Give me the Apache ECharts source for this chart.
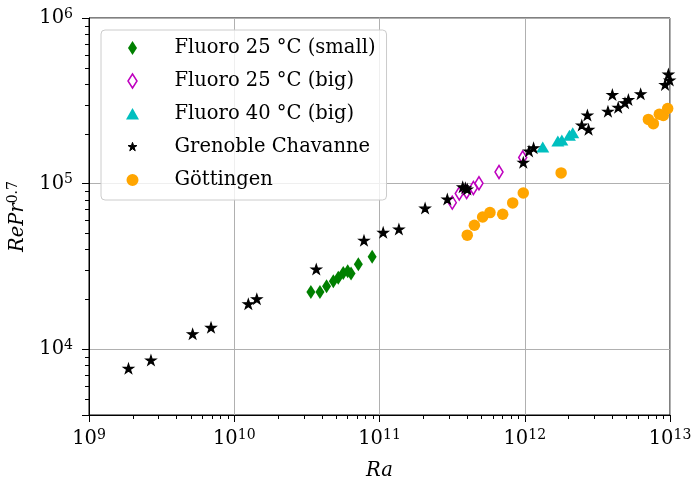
<!DOCTYPE html>
<html><head><meta charset="utf-8">
<script src="https://cdn.jsdelivr.net/npm/echarts@6/dist/echarts.min.js"></script>
<style>html,body{margin:0;padding:0;background:#fff}#c{width:692px;height:478px}</style>
</head><body><div id="c"></div>
<script>
// ---- data ----
const seriesNames = ['Fluoro 25 °C (small)', 'Fluoro 25 °C (big)', 'Fluoro 40 °C (big)', 'Grenoble Chavanne', 'Göttingen'];

const flSmallX = [3.37e10, 3.89e10, 4.32e10, 4.81e10, 5.2e10, 5.63e10, 6.04e10, 6.37e10, 7.15e10, 8.9e10];
const flSmallY = [22150, 22150, 24000, 25700, 27000, 28800, 29500, 28600, 32600, 36100];

const flBigX = [3.17e11, 3.54e11, 3.98e11, 4.43e11, 4.84e11, 6.65e11, 9.68e11];
const flBigY = [76700, 87100, 88900, 94000, 100400, 117500, 143600];

const fl40X = [1.33e12, 1.69e12, 1.80e12, 2.03e12, 2.14e12];
const fl40Y = [166000, 181000, 183000, 196000, 203000];

const grenX = [1.87e9, 2.67e9, 5.17e9, 6.92e9, 1.25e10, 1.43e10, 3.67e10, 7.82e10, 1.06e11, 1.36e11, 2.06e11, 2.93e11, 3.74e11, 3.9e11, 4.02e11, 9.77e11, 1.07e12, 1.15e12, 2.47e12, 2.70e12, 2.75e12, 3.74e12, 4.01e12, 4.40e12, 4.90e12, 5.17e12, 6.28e12, 9.25e12, 9.75e12, 9.95e12];
const grenY = [7640, 8570, 12360, 13500, 18750, 20100, 30400, 45300, 50600, 53000, 70900, 80400, 95300, 94000, 92500, 134000, 157000, 164000, 225000, 259000, 212000, 273000, 344000, 288000, 307000, 321000, 348000, 396000, 457000, 421000];

const gotX = [4.02e11, 4.50e11, 5.13e11, 5.76e11, 7.05e11, 8.26e11, 9.77e11, 1.78e12, 7.10e12, 7.68e12, 8.44e12, 8.99e12, 9.64e12];
const gotY = [48800, 56000, 62800, 66800, 65300, 76400, 87700, 116000, 244000, 230000, 262000, 258000, 284000];

// axis ranges and minor tick positions (log axes: 2..9 x 10^n)
const xRange = [1e9, 1e13];
const yRange = [4000, 1e6];
const xMinor = [];
for (let d = 9; d < 13; d++) for (let k = 2; k <= 9; k++) xMinor.push(k * Math.pow(10, d));
const yMinor = [5000, 6000, 7000, 8000, 9000];
for (let d = 4; d < 6; d++) for (let k = 2; k <= 9; k++) yMinor.push(k * Math.pow(10, d));

// ---- styling ----
const F = 'DejaVu Serif';
const zip = (xs, ys) => xs.map((x, i) => [x, ys[i]]);
const STAR_P = 'M0,-10L2.245,-3.09L9.51,-3.09L3.633,1.18L5.878,8.09L0,3.82L-5.878,8.09L-3.633,1.18L-9.51,-3.09L-2.245,-3.09Z';
const STAR = 'path://' + STAR_P;
const DIAM = 'path://M0,-7L4.5,0L0,7L-4.5,0Z';
// legend icons: tiny corner strokes fix the icon box so sizes match the plot markers
const pad = r => 'M' + (-r) + ',' + (-r) + 'L' + (-r + 0.01) + ',' + (-r) + 'M' + r + ',' + r + 'L' + (r - 0.01) + ',' + r;
const LEG_STAR = 'path://' + pad(15) + STAR_P;
const LEG_TRI = 'path://' + pad(7) + 'M0,-6L6.5,5.5L-6.5,5.5Z';
const LEG_CIRC = 'path://' + pad(7) + 'M6,0A6,6,0,1,1,-6,0A6,6,0,1,1,6,0Z';
const legendIcons = [DIAM, DIAM, LEG_TRI, LEG_STAR, LEG_CIRC];
const legendBorders = [0, 1.5, 0, 1, 0];

function powLabel(v) {
  const l = Math.log10(v), e = Math.round(l);
  if (Math.abs(l - e) > 1e-6) return '';
  return '{b|10}{s|' + e + '}';
}
const richPow = {
  b: {fontFamily: F, fontSize: 19.5, lineHeight: 22, color: '#000'},
  s: {fontFamily: F, fontSize: 14, lineHeight: 13, verticalAlign: 'top', color: '#000'}
};

// minor ticks drawn through the axes' own scales
function minorTickSeries(dim, values, len) {
  return {
    type: 'custom', silent: true, clip: false, z: 5, legendHoverLink: false,
    data: values.map(v => dim === 'x' ? [v, yRange[0]] : [xRange[0], v]),
    renderItem: (params, api) => {
      const p = api.coord([api.value(0), api.value(1)]);
      if (dim === 'x') {
        const x = Math.round(p[0]) + 0.5, y = Math.round(p[1]);
        return {type: 'line', shape: {x1: x, y1: y, x2: x, y2: y + len}, style: {stroke: '#000', lineWidth: 1}};
      }
      const x = Math.round(p[0]), y = Math.round(p[1]) + 0.5;
      return {type: 'line', shape: {x1: x, y1: y, x2: x - len, y2: y}, style: {stroke: '#000', lineWidth: 1}};
    }
  };
}

const chart = echarts.init(document.getElementById('c'), null, {renderer: 'canvas'});
chart.setOption({
  animation: false,
  backgroundColor: '#fff',
  grid: {left: 89, right: 22, top: 18, bottom: 63, show: true, borderColor: '#000', borderWidth: 1,
         containLabel: false, outerBoundsMode: 'none'},
  legend: {
    orient: 'vertical', left: 101, top: 30, padding: [8, 11, 10, 24],
    itemWidth: 14, itemHeight: 14, itemGap: 13,
    backgroundColor: 'rgba(255,255,255,0.8)', borderColor: '#cccccc', borderWidth: 1, borderRadius: 4,
    textStyle: {fontFamily: F, fontSize: 19.5, color: '#000', lineHeight: 20, padding: [0, 0, 0, 30]},
    data: seriesNames.map((n, i) => ({name: n, icon: legendIcons[i], itemStyle: {borderWidth: legendBorders[i]}}))
  },
  xAxis: {
    type: 'log', logBase: 10, min: xRange[0], max: xRange[1], position: 'bottom',
    name: 'Ra', nameLocation: 'middle', nameGap: 46,
    nameTextStyle: {fontFamily: F, fontStyle: 'italic', fontSize: 19.5, color: '#000'},
    axisLine: {show: true, lineStyle: {color: '#000', width: 1}},
    axisTick: {show: true, inside: false, length: 7, lineStyle: {color: '#000', width: 1}},
    axisLabel: {margin: 13, formatter: powLabel, rich: richPow},
    splitLine: {show: true, lineStyle: {color: '#b0b0b0', width: 1}}
  },
  yAxis: {
    type: 'log', logBase: 10, min: yRange[0], max: yRange[1], position: 'left',
    name: '{i|RePr}{s|0.7}', nameLocation: 'middle', nameGap: 55, nameRotate: 90,
    nameTextStyle: {rich: {
      i: {fontFamily: F, fontStyle: 'italic', fontSize: 19.5, lineHeight: 24, color: '#000'},
      s: {fontFamily: F, fontSize: 14, lineHeight: 14, verticalAlign: 'top', color: '#000'}
    }},
    axisLine: {show: true, lineStyle: {color: '#000', width: 1}},
    axisTick: {show: true, inside: false, length: 7, lineStyle: {color: '#000', width: 1}},
    axisLabel: {margin: 16, formatter: powLabel, rich: richPow},
    splitLine: {show: true, lineStyle: {color: '#b0b0b0', width: 1}}
  },
  series: [
    {name: seriesNames[0], type: 'scatter', data: zip(flSmallX, flSmallY), symbol: DIAM, symbolSize: [9, 14],
     itemStyle: {color: '#008000', opacity: 1}},
    {name: seriesNames[1], type: 'scatter', data: zip(flBigX, flBigY), symbol: DIAM, symbolSize: [8, 13],
     itemStyle: {color: '#ffffff', borderColor: '#bf00bf', borderWidth: 1.6, opacity: 1}},
    {name: seriesNames[2], type: 'scatter', data: zip(fl40X, fl40Y), symbol: 'triangle', symbolSize: [13, 11],
     itemStyle: {color: '#00bfbf', opacity: 1}},
    {name: seriesNames[3], type: 'scatter', data: zip(grenX, grenY), symbol: STAR, symbolSize: 10, symbolKeepAspect: true,
     itemStyle: {color: '#000', borderColor: '#000', borderWidth: 1.2, opacity: 1}},
    {name: seriesNames[4], type: 'scatter', data: zip(gotX, gotY), symbol: 'circle', symbolSize: 11.5,
     itemStyle: {color: '#ffa500', opacity: 1}},
    minorTickSeries('x', xMinor, 4),
    minorTickSeries('y', yMinor, 4)
  ]
});
</script></body></html>
